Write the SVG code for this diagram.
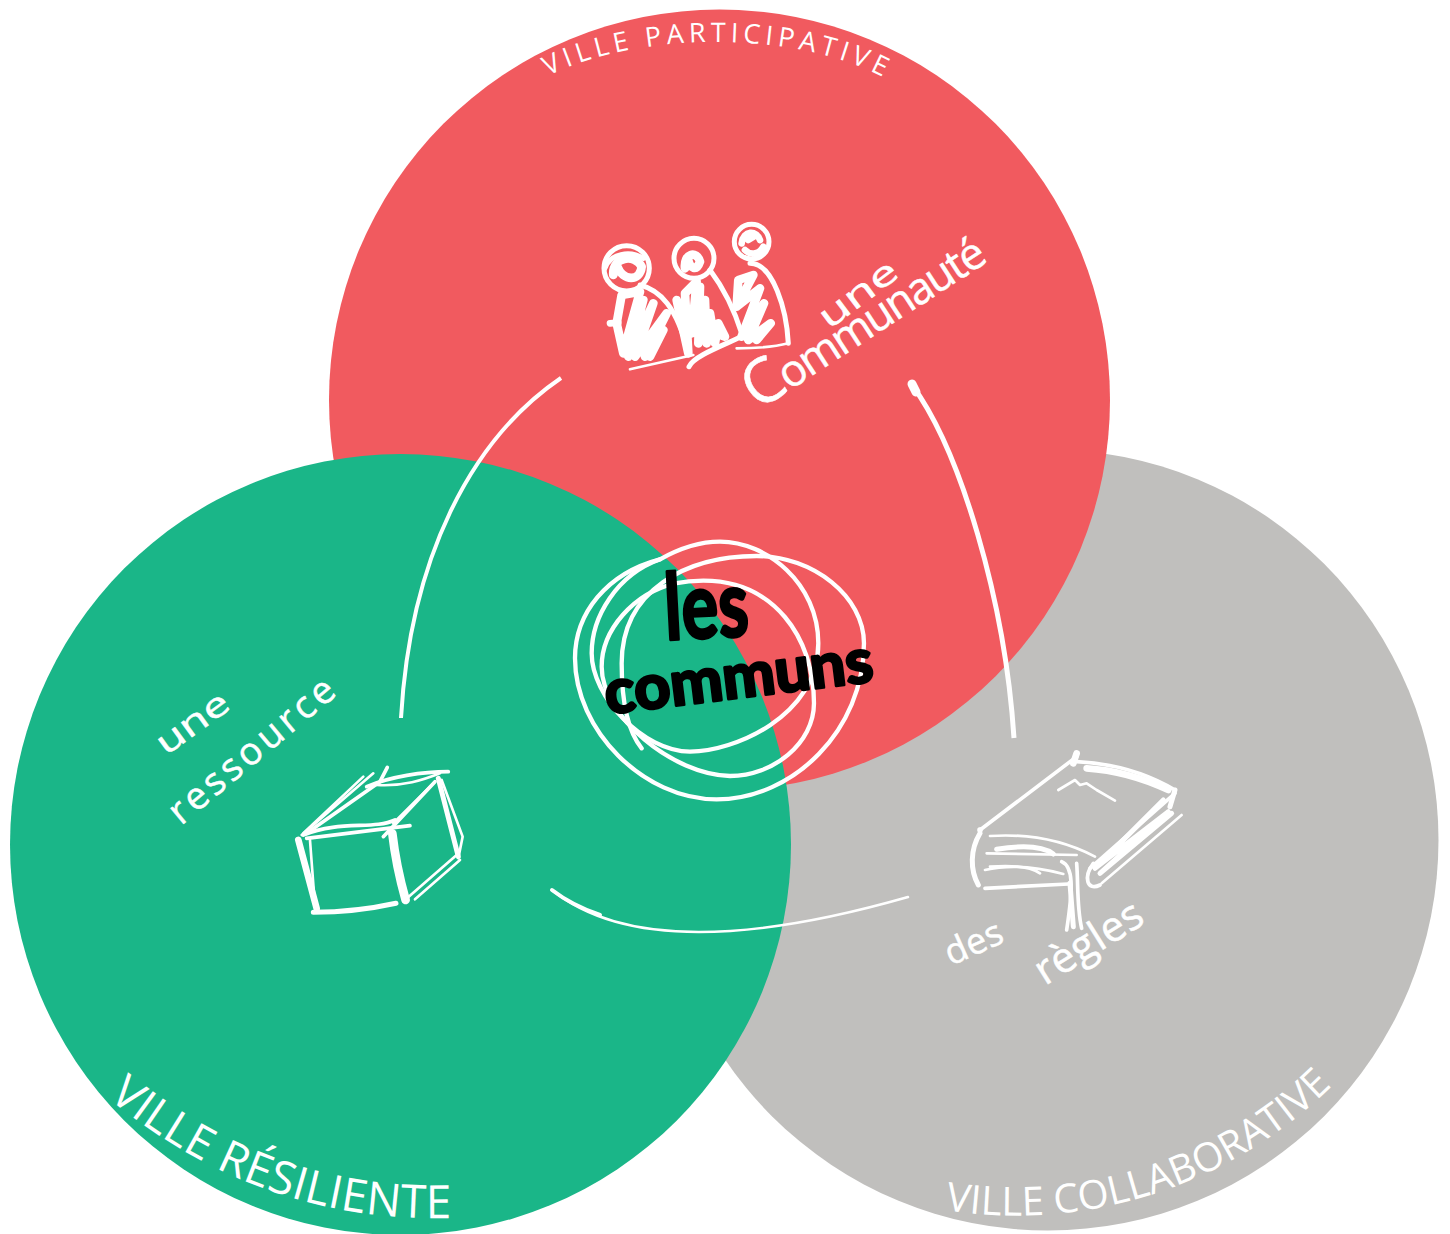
<svg xmlns="http://www.w3.org/2000/svg" width="1450" height="1234" viewBox="0 0 1450 1234">
<style>
text{font-family:"Open Sans","Noto Sans","Liberation Sans",sans-serif;fill:#fff}
.cap{font-weight:400}
.hand{font-weight:400;stroke:#fff;stroke-width:.5}
.ink{fill:none;stroke:#fff;stroke-linecap:round;stroke-linejoin:round}
.t6{stroke-width:8}.t9{stroke-width:11}.t12{stroke-width:15}.t16{stroke-width:20}.t20{stroke-width:26}
.ring{stroke-width:13}
.big{font-family:"Lato","Open Sans",sans-serif;fill:#000;stroke:#000;stroke-width:3;stroke-linejoin:round;font-weight:700}
</style>
<defs>
<path id="p-part" d="M548 76C640 30 800 30 888 80"/>
<path id="p-res" d="M108 1098C190 1165 300 1222 452 1218"/>
<path id="p-col" d="M945 1210C1100 1235 1245 1175 1336 1082"/>
</defs>

<g id="ville-collaborative">
<circle cx="1048" cy="840" r="390.500" fill="#c0bfbd"/>
<text class="cap" font-size="40"><textPath href="#p-col" textLength="422" lengthAdjust="spacing">VILLE COLLABORATIVE</textPath></text>
<g id="regles" transform="translate(930 740) scale(.3333)" class="ink">
<path class="t9" d="M150 270L440 50"/>
<path class="t16" d="M440 40L430 70"/>
<circle cx="150" cy="270" r="8" fill="#fff"/>
<path class="t9" d="M440 65C550 70 650 100 735 150"/>
<path class="t16" d="M470 85C550 90 640 115 715 150"/>
<path class="t12" d="M735 150L720 200"/>
<path class="t9" d="M735 160L480 385"/>
<path class="t12" d="M700 180L495 385L715 215L510 400L725 220"/>
<path class="t6" d="M755 225L515 430"/>
<path class="t12" d="M150 280C120 330 120 390 145 435"/>
<path class="t6" d="M180 288C300 280 400 300 495 350"/>
<path class="t6" d="M170 340L440 345"/>
<path class="t12" d="M200 328C280 315 340 320 370 342"/>
<path class="t6" d="M165 390C230 375 300 375 400 402"/>
<path class="t6" d="M180 380C240 375 300 380 330 400"/>
<path class="t9" d="M165 445L415 432"/>
<path class="t9" d="M395 365C430 380 430 440 410 570"/>
<path class="t9" d="M440 370C445 430 440 500 455 565"/>
<path class="t12" d="M420 430L430 560"/>
<path class="t9" d="M490 370C460 410 470 455 510 435"/>
<path class="t6" d="M385 150L435 120L450 135L470 130L500 150L555 182"/>
</g>
<text class="hand" font-size="36" transform="translate(951 966) rotate(-24)" textLength="60">des</text>
<text class="hand" font-size="42" transform="translate(1045 986) rotate(-32)" textLength="120">règles</text>
</g>

<g id="ville-participative">
<circle cx="719.500" cy="400" r="390.500" fill="#f15a5f"/>
<text class="cap" font-size="27"><textPath href="#p-part" textLength="345" lengthAdjust="spacing">VILLE PARTICIPATIVE</textPath></text>
<g id="communaute" transform="translate(560 200) scale(.3333)" class="ink">
<circle class="t12" cx="200" cy="205" r="68"/>
<path class="t20" d="M160 225C155 170 225 160 245 200C240 245 190 245 172 200"/>
<path class="t12" d="M135 205C150 160 210 150 250 175"/>
<circle class="t12" cx="402" cy="175" r="60"/>
<path class="t20" d="M375 205C370 160 410 150 420 185C410 215 390 205 385 180"/>
<circle class="t12" cx="575" cy="125" r="52"/>
<path class="t16" d="M545 130C550 90 590 90 600 120M555 150C575 170 600 160 610 140M565 120L590 105"/>
<path class="t12" d="M240 255C300 270 350 320 385 460"/>
<path class="t20" d="M190 460L170 370L185 285L240 275L190 455L250 300L205 470L280 310L225 470L320 340L255 470L310 390L270 470"/>
<path class="t16" d="M150 370L175 368"/>
<path class="t12" d="M450 210C480 250 520 320 545 400"/>
<path class="t20" d="M350 300L385 460L375 280L410 245L395 400L420 260L415 430L435 300L440 430L450 340L465 430L475 370L495 410L440 390"/>
<path class="t12" d="M570 190C640 190 680 330 685 430"/>
<path class="t20" d="M530 320L535 240L580 225L530 320L600 265L545 410L612 310L565 420L632 370L590 420"/>
<path class="t6" d="M530 445C590 445 640 442 685 430"/>
<path class="t6" d="M210 508L400 465"/>
<path class="t12" d="M387 500C400 470 480 440 540 412"/>
</g>
<text class="hand" font-size="34" transform="translate(829 330) rotate(-37)" textLength="90" lengthAdjust="spacingAndGlyphs">une</text>
<text class="hand" font-size="44" transform="translate(758 411) rotate(-33)" textLength="276" lengthAdjust="spacing"><tspan font-size="62">C</tspan>ommunauté</text>
</g>

<g id="ville-resiliente">
<circle cx="400.500" cy="844.500" r="390.500" fill="#1ab688"/>
<text class="cap" font-size="46"><textPath href="#p-res" textLength="372" lengthAdjust="spacing">VILLE RÉSILIENTE</textPath></text>
<g id="ressource" transform="translate(140 660) scale(.3333)" class="ink">
<path class="t16" d="M475 540L530 745"/>
<path class="t6" d="M510 540L525 740"/>
<path class="t12" d="M520 757C610 757 700 745 768 730"/>
<path class="t9" d="M490 525C600 480 700 510 765 480"/>
<path class="t9" d="M500 535L810 497"/>
<path class="t20" d="M757 520C765 590 780 660 797 720"/>
<path class="t6" d="M485 525L700 340"/>
<path class="t6" d="M490 520L670 350"/>
<path class="t9" d="M500 520L720 365L742 322"/>
<path class="t9" d="M680 380C750 350 850 335 925 335"/>
<path class="t6" d="M710 375C790 380 850 360 900 340"/>
<path class="t9" d="M730 530L885 365"/>
<path class="t6" d="M760 490L880 370"/>
<path class="t12" d="M895 355L955 590"/>
<path class="t6" d="M905 360L968 530L955 595"/>
<path class="t6" d="M795 720L950 585"/>
<path class="t6" d="M825 718L960 600"/>
</g>
<text class="hand" font-size="34" transform="translate(166 756) rotate(-36)" textLength="82" lengthAdjust="spacingAndGlyphs">une</text>
<text class="hand" font-size="38" transform="translate(181 826) rotate(-40)" textLength="205">ressource</text>
</g>

<g id="connectors" fill="none" stroke="#fff" stroke-linecap="round">
<path stroke-width="4" stroke-linecap="butt" d="M561 378C470 440 410 560 401 718"/>
<path stroke-width="5" stroke-linecap="butt" d="M912 385C960 450 1005 600 1014 738"/>
<path stroke-width="2.500" d="M552 890C620 945 740 945 908 897"/>
<path stroke-width="4" d="M552 890C565 900 580 908 600 915"/>
<path stroke-width="9" d="M912 384L916 392"/>
</g>

<g id="communs">
<g transform="translate(560 530) scale(.3333)" class="ink">
<path class="ring" d="M300 88C140 130 45 250 45 385C45 600 250 808 470 808C700 808 912 600 912 340C912 200 760 78 590 78C380 78 185 180 185 400C185 500 200 600 245 655"/>
<path class="ring" d="M300 88C170 135 95 260 95 370C95 500 250 665 390 665C520 665 775 560 775 340C775 160 620 35 480 35C410 35 350 60 300 88Z"/>
<path class="ring" d="M345 160C220 190 125 300 125 410C125 560 340 735 510 738C640 738 762 640 762 520C762 320 640 152 430 152C400 152 370 155 345 160Z"/>
</g>
<text class="big" font-size="92" transform="translate(666 640) rotate(-3)" textLength="84" lengthAdjust="spacingAndGlyphs">les</text>
<text class="big" font-size="62" transform="translate(607 714) rotate(-7)" textLength="270" lengthAdjust="spacingAndGlyphs">communs</text>
</g>
</svg>
